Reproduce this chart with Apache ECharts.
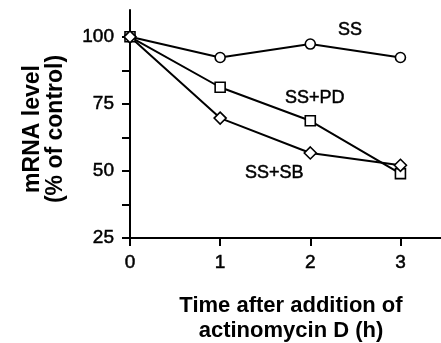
<!DOCTYPE html>
<html>
<head>
<meta charset="utf-8">
<script src="https://cdn.jsdelivr.net/npm/echarts@6/dist/echarts.min.js"></script>
<style>
  html, body { margin: 0; padding: 0; background: #fff; }
  #main { width: 441px; height: 343px; }
</style>
</head>
<body>
<div id="main"></div>
<script>
// time after actinomycin D (h)
const hours = [0, 1, 2, 3];
const ssValues = [100, 92.3, 97.3, 92.3];
const ssPdValues = [100, 81.2, 68.7, 49.0];
const ssSbValues = [100, 69.7, 56.7, 52.1];
const yTickValues = [25, 37.5, 50, 62.5, 75, 87.5, 100];
const yLabelValues = [25, 50, 75, 100];
const xTickValues = [0, 1, 2, 3];
// series name labels, placed in data space
const seriesLabels = [
  { text: "SS", at: [2.44, 102.5] },
  { text: "SS+PD", at: [2.05, 77.2] },
  { text: "SS+SB", at: [1.6, 49.4] },
];

const FONT = "Liberation Sans, Arial, Helvetica, sans-serif";
const chart = echarts.init(document.getElementById("main"), null, { renderer: "canvas" });

const pairs = (ys) => hours.map((h, i) => [h, ys[i]]);

// printed look: thin stroke around glyphs
const inked = { color: "#000", textBorderColor: "#000", textBorderWidth: 0.5 };

const lineSeries = (name, ys, symbol, size) => ({
  type: "line",
  name,
  data: pairs(ys),
  symbol,
  symbolSize: size,
  showAllSymbol: true,
  lineStyle: { color: "#000", width: 2 },
  itemStyle: { color: "#fff", borderColor: "#000", borderWidth: 1.6 },
  z: 3,
});

const options = {
  backgroundColor: "#fff",
  animation: false,
  grid: { left: 130, right: 0, top: 10, bottom: 105 },
  xAxis: {
    type: "value",
    min: 0,
    max: 3.45,
    splitLine: { show: false },
    axisLine: { onZero: false, lineStyle: { color: "#000", width: 2 } },
    axisTick: {
      customValues: xTickValues,
      length: 8,
      lineStyle: { color: "#000", width: 2 },
    },
    axisLabel: {
      customValues: xTickValues,
      ...inked,
      fontFamily: FONT,
      fontSize: 19,
      margin: 15,
    },
  },
  yAxis: {
    type: "value",
    min: 25,
    max: 110,
    splitLine: { show: false },
    axisLine: { onZero: false, lineStyle: { color: "#000", width: 2 } },
    axisTick: {
      customValues: yTickValues,
      length: 8,
      lineStyle: { color: "#000", width: 2 },
    },
    axisLabel: {
      customValues: yLabelValues,
      ...inked,
      fontFamily: FONT,
      fontSize: 19,
      margin: 16,
    },
  },
  series: [
    lineSeries("SS", ssValues, "circle", 10),
    lineSeries("SS+PD", ssPdValues, "rect", 10),
    lineSeries("SS+SB", ssSbValues, "diamond", 12),
    {
      type: "scatter",
      data: seriesLabels.map((l) => ({ value: l.at, name: l.text })),
      symbolSize: 0,
      silent: true,
      itemStyle: { opacity: 1 },
      label: {
        show: true,
        position: "inside",
        formatter: (p) => p.name,
        ...inked,
        fontFamily: FONT,
        fontSize: 18,
      },
    },
  ],
  graphic: [
    {
      type: "text",
      x: 44,
      y: 129,
      rotation: Math.PI / 2,
      style: {
        text: "mRNA level\n(% of control)",
        align: "center",
        verticalAlign: "middle",
        fill: "#000",
        font: "bold 23px " + FONT,
        lineHeight: 23,
      },
    },
    {
      type: "text",
      x: 291,
      y: 318,
      style: {
        text: "Time after addition of\nactinomycin D (h)",
        align: "center",
        verticalAlign: "middle",
        fill: "#000",
        font: "bold 22px " + FONT,
        lineHeight: 25,
      },
    },
  ],
};

chart.setOption(options);
</script>
</body>
</html>
